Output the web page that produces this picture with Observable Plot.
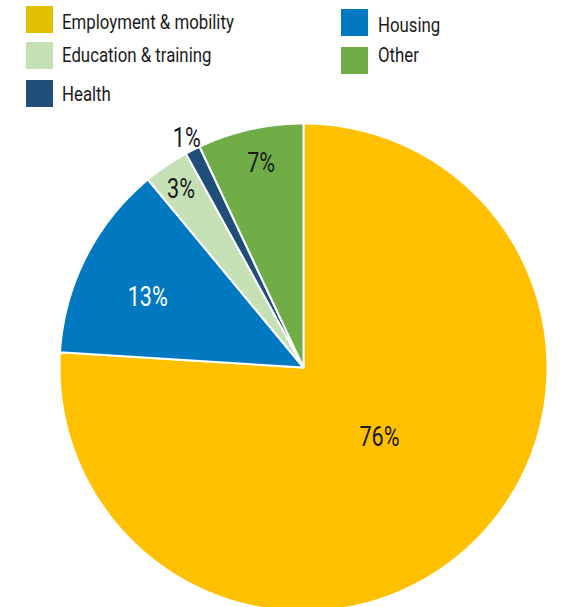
<!DOCTYPE html>
<html>
<head>
<meta charset="utf-8">
<script src="https://cdn.jsdelivr.net/npm/d3@7"></script>
<script src="https://cdn.jsdelivr.net/npm/@observablehq/plot@0.6"></script>
<style>
  html, body { margin: 0; padding: 0; background: #fff; }
  #wrap { position: relative; width: 563px; height: 607px; overflow: hidden; font-family: Roboto, "Liberation Sans", sans-serif; }
  .sw { position: absolute; width: 27px; height: 27px; }
  .lt { position: absolute; font-size: 21px; color: #1a1a1a; white-space: nowrap; line-height: 1; transform: scaleX(0.8); transform-origin: 0 0; }
  #chart { position: absolute; left: 0; top: 0; }
</style>
</head>
<body>
<div id="wrap">
  <div id="chart"></div>
  <div id="legend"></div>
</div>
<script>
// ---- data ----
const categories = ["Employment & mobility", "Housing", "Education & training", "Health", "Other"];
const values = [76, 13, 3, 1, 7];
const labels = ["76%", "13%", "3%", "1%", "7%"];
const legendOrder = ["Employment & mobility", "Housing", "Education & training", "Other", "Health"];

// ---- style / layout ----
const sliceColors = ["#ffc000", "#0079c1", "#c5e0b4", "#1f4e79", "#70ad47"];
const legendColors = {"Employment & mobility": "#e0c000", "Housing": "#0079c1", "Education & training": "#c5e0b4", "Health": "#1f4e79", "Other": "#70ad47"};
const labelRadius = [0.423, 0.70, 0.886, 1.054, 0.856];
const labelAngleShift = [-4.2, -2.8, -0.3, 0, 0.9]; // degrees
const labelInk = ["#1a1a1a", "#ffffff", "#1a1a1a", "#1a1a1a", "#1a1a1a"];
const legendPos = {
  "Employment & mobility": [26, 6, 62, 12],
  "Education & training": [26, 42, 62, 45],
  "Health": [26, 80, 62, 84],
  "Housing": [341, 9, 378, 15],
  "Other": [341, 47, 378, 45]
};

const W = 563, H = 607, cx = 303, cy = 367, R = 244;

// slices from d3.pie (clockwise from 12 o'clock, in data order)
const pie = d3.pie().sort(null).value(d => d.value);
const table = categories.map((c, i) => ({category: c, value: values[i], label: labels[i], i}));
const arcs = pie(table);

const pts = [];
arcs.forEach(a => {
  const cat = a.data.category;
  pts.push({category: cat, x: 0, y: 0});
  const n = Math.max(2, Math.ceil((a.endAngle - a.startAngle) / (Math.PI / 360)));
  for (let k = 0; k <= n; k++) {
    const t = a.startAngle + (a.endAngle - a.startAngle) * k / n;
    pts.push({category: cat, x: Math.sin(t), y: Math.cos(t)});
  }
  pts.push({category: cat, x: 0, y: 0});
});

const labelPts = arcs.map(a => {
  const m = (a.startAngle + a.endAngle) / 2 + labelAngleShift[a.data.i] * Math.PI / 180;
  const r = labelRadius[a.data.i];
  return {label: a.data.label, x: r * Math.sin(m), y: r * Math.cos(m), ink: labelInk[a.data.i]};
});

const chart = Plot.plot({
  width: W,
  height: H,
  margin: 0,
  x: {domain: [-cx / R, (W - cx) / R], axis: null},
  y: {domain: [-(H - cy) / R, cy / R], axis: null},
  color: {domain: categories, range: sliceColors},
  style: {background: "transparent", fontFamily: 'Roboto, "Liberation Sans", sans-serif'},
  marks: [
    Plot.line(pts, {x: "x", y: "y", z: "category", fill: "category", stroke: "#ffffff", strokeWidth: 2, strokeLinejoin: "round", curve: "linear"}),
    Plot.text(labelPts.filter(d => d.ink === "#ffffff"), {x: "x", y: "y", text: "label", fill: "#ffffff", fontSize: 27}),
    Plot.text(labelPts.filter(d => d.ink !== "#ffffff"), {x: "x", y: "y", text: "label", fill: "#1a1a1a", fontSize: 27})
  ]
});
// condense the label glyphs horizontally around their anchor
d3.select(chart).selectAll("text").each(function() {
  const x = +this.getAttribute("x") || 0, y = +this.getAttribute("y") || 0;
  const tr = this.getAttribute("transform") || "";
  this.setAttribute("transform", `${tr} translate(${x},${y}) scale(0.8,1) translate(${-x},${-y})`);
});
document.getElementById("chart").appendChild(chart);

// legend
const lg = document.getElementById("legend");
legendOrder.forEach(c => {
  const [sx, sy, tx, ty] = legendPos[c];
  const sw = document.createElement("div");
  sw.className = "sw";
  sw.style.left = sx + "px"; sw.style.top = sy + "px";
  sw.style.background = legendColors[c];
  lg.appendChild(sw);
  const t = document.createElement("div");
  t.className = "lt";
  t.style.left = tx + "px"; t.style.top = ty + "px";
  t.textContent = c;
  lg.appendChild(t);
});
</script>
</body>
</html>
